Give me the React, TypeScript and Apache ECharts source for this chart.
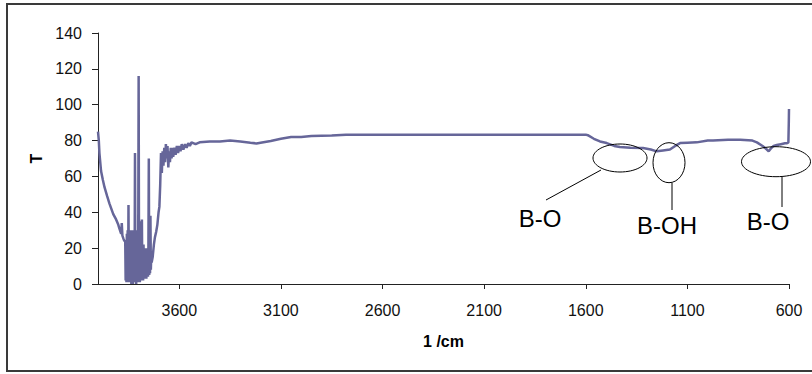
import React, { useEffect, useRef } from "react";
import * as echarts from "echarts";

// Spectrum segments (wavenumber in 1/cm, transmittance T)
const wnHigh = [4000, 3996, 3993, 3985, 3976, 3968, 3955, 3944, 3925, 3911, 3900, 3895, 3886, 3883, 3880, 3874, 3870];
const tHigh = [85, 80, 73, 63, 58, 54, 49, 45, 39, 36, 33, 31, 28, 34, 27, 25, 24];

const wnNoise = [3866, 3864, 3862, 3860, 3858, 3856, 3854, 3852, 3850, 3848, 3846, 3844, 3842, 3840, 3838, 3836, 3834, 3832, 3830, 3828, 3826, 3824, 3822, 3820, 3818, 3816, 3814, 3812, 3810, 3808, 3806, 3804, 3802, 3800, 3798, 3796, 3794, 3792, 3790, 3788, 3786, 3784, 3782, 3780, 3778, 3776, 3774, 3772, 3770, 3768, 3766, 3764, 3762, 3760, 3758, 3756, 3754, 3752, 3750, 3748, 3746, 3744, 3742, 3740, 3738, 3736];
const tNoise = [24, 2, 22, 1, 28, 2, 30, 3, 44, 1, 30, 2, 26, 1, 30, 0, 28, 2, 25, 0, 30, 1, 24, 2, 73, 1, 28, 0, 30, 2, 22, 1, 30, 116, 2, 25, 1, 35, 3, 22, 2, 36, 3, 20, 2, 22, 4, 18, 3, 20, 4, 20, 3, 17, 5, 16, 4, 20, 70, 5, 16, 6, 38, 8, 16, 12];

const wnRise = [3731, 3725, 3720, 3714, 3708, 3702, 3698, 3694, 3690, 3686, 3682, 3678, 3674, 3670, 3666, 3662, 3658, 3654, 3650, 3646, 3642, 3638, 3634, 3630, 3624, 3618, 3612, 3606, 3600, 3594, 3588, 3580, 3572, 3564, 3556, 3548, 3540, 3520, 3500];
const tRise = [15, 22, 26, 29, 33, 40, 43, 55, 73, 62, 74, 66, 76, 68, 78, 70, 77, 65, 74, 68, 76, 70, 76, 71, 76, 72, 77, 73, 77, 74, 78, 75, 78, 76, 78.5, 77, 79, 78, 79];

const wnFlat = [3450, 3400, 3350, 3300, 3250, 3220, 3200, 3150, 3100, 3050, 3000, 2950, 2850, 2780, 2600, 2400, 2200, 2000, 1800, 1600];
const tFlat = [79.5, 79.5, 80, 79.5, 78.8, 78.4, 78.8, 79.8, 81, 82, 82, 82.5, 82.8, 83.3, 83.3, 83.3, 83.3, 83.3, 83.3, 83.3];

const wnTail = [1590, 1560, 1530, 1497, 1460, 1432, 1380, 1318, 1280, 1251, 1220, 1186, 1160, 1136, 1100, 1054, 1000, 974, 900, 840, 780, 758, 730, 709, 700, 690, 676, 660, 640, 620, 610, 603, 601, 600];
const tTail = [83, 81, 79.5, 78.6, 77, 76.4, 76, 75.8, 75, 74, 74.5, 75, 77, 78.6, 78.8, 79, 80, 80.1, 80.5, 80.5, 80, 79, 77, 75, 74, 75.5, 77, 77.5, 78, 78.5, 78.5, 79, 90, 97.6];

const xTicks = [600, 1100, 1600, 2100, 2600, 3100, 3600];
const yTicks = [0, 20, 40, 60, 80, 100, 120, 140];

const annotationLabels = ["B-O", "B-OH", "B-O"];

const FONT = '"Liberation Sans", Arial, sans-serif';

export default function App() {
  const ref = useRef<HTMLDivElement>(null);

  useEffect(() => {
    if (!ref.current) return;
    const chart = echarts.init(ref.current, undefined, { renderer: "svg" });

    const wn = [...wnHigh, ...wnNoise, ...wnRise, ...wnFlat, ...wnTail];
    const tv = [...tHigh, ...tNoise, ...tRise, ...tFlat, ...tTail];
    const data = wn.map((w, i) => [w, tv[i]]);

    const line = { stroke: "#000", lineWidth: 1 };
    const ell = { fill: "none", stroke: "#000", lineWidth: 1 };
    const txt = (text: string, x: number, y: number) => ({
      type: "text",
      x,
      y,
      z: 10,
      style: {
        text,
        fill: "#000",
        fontSize: 24,
        fontFamily: FONT,
        align: "center",
        verticalAlign: "middle",
      },
    });

    chart.setOption({
      animation: false,
      backgroundColor: "#fff",
      grid: { left: 98, right: 23, top: 33, bottom: 90, containLabel: false },
      xAxis: {
        type: "value",
        min: xTicks[0],
        max: 4000,
        interval: 500,
        inverse: true,
        name: "1 /cm",
        nameLocation: "middle",
        nameGap: 49,
        nameTextStyle: { fontFamily: FONT, fontSize: 16, fontWeight: "bold", color: "#000" },
        axisLine: { show: true, lineStyle: { color: "#222", width: 1 } },
        axisTick: { show: true, length: 5, lineStyle: { color: "#222" } },
        axisLabel: {
          margin: 18,
          fontFamily: FONT,
          fontSize: 16,
          color: "#111",
          showMaxLabel: false,
          formatter: (v: number) => (xTicks.includes(v) ? String(v) : ""),
        },
        splitLine: { show: false },
      },
      yAxis: {
        type: "value",
        min: yTicks[0],
        max: yTicks[yTicks.length - 1],
        interval: 20,
        name: "T",
        nameLocation: "middle",
        nameGap: 54,
        nameTextStyle: { fontFamily: FONT, fontSize: 16, fontWeight: "bold", color: "#000" },
        axisLine: { show: true, lineStyle: { color: "#222", width: 1 } },
        axisTick: { show: true, length: 6, lineStyle: { color: "#222" } },
        axisLabel: { margin: 16, fontFamily: FONT, fontSize: 16, color: "#111" },
        splitLine: { show: false },
      },
      series: [
        {
          type: "line",
          data,
          showSymbol: false,
          silent: true,
          lineStyle: { color: "#666699", width: 2.5 },
          itemStyle: { color: "#666699" },
        },
      ],
      graphic: [
        {
          type: "rect",
          shape: { x: 7, y: 4, width: 830, height: 367 },
          style: { fill: "none", stroke: "#3a3a3a", lineWidth: 2 },
        },
        { type: "ellipse", z: 10, shape: { cx: 620, cy: 158, rx: 27, ry: 14 }, style: ell },
        { type: "line", z: 10, shape: { x1: 601, y1: 170, x2: 546, y2: 200 }, style: line },
        txt(annotationLabels[0], 540, 218),
        { type: "ellipse", z: 10, shape: { cx: 669, cy: 162.7, rx: 16, ry: 20 }, style: ell },
        { type: "line", z: 10, shape: { x1: 672, y1: 182.7, x2: 672, y2: 210 }, style: line },
        txt(annotationLabels[1], 667, 225),
        { type: "ellipse", z: 10, shape: { cx: 776, cy: 161.7, rx: 34.5, ry: 15 }, style: ell },
        { type: "line", z: 10, shape: { x1: 782, y1: 176.7, x2: 782, y2: 207 }, style: line },
        txt(annotationLabels[2], 768, 221.5),
      ],
    });

    return () => chart.dispose();
  }, []);

  return (
    <div
      ref={ref}
      style={{ position: "fixed", left: 0, top: 0, width: 812, height: 374 }}
    />
  );
}
